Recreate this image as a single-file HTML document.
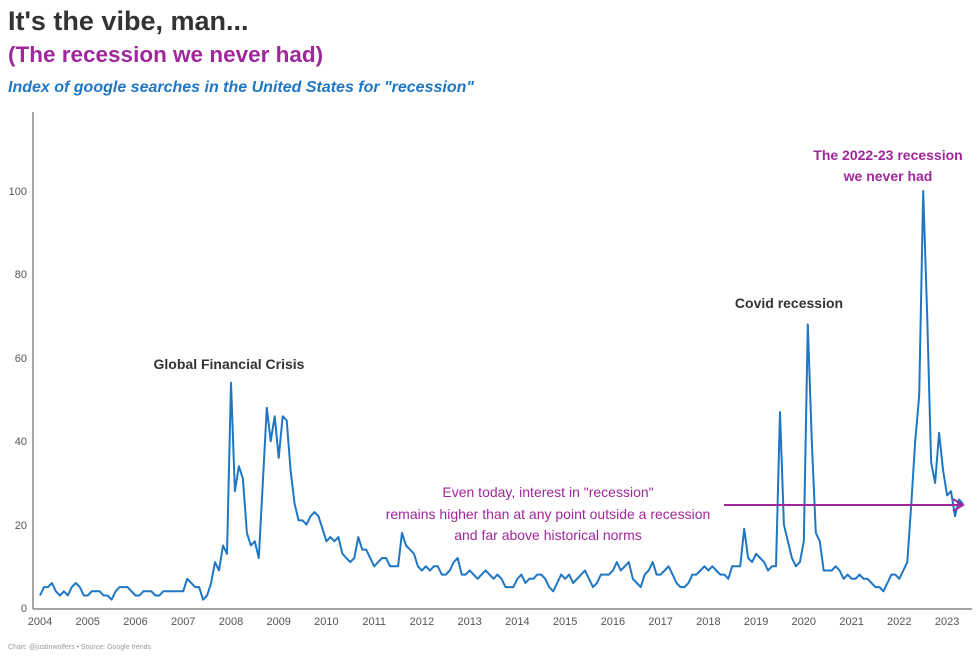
<!DOCTYPE html>
<html><head><meta charset="utf-8"><style>
body{margin:0;background:#fff;width:980px;height:660px;overflow:hidden;font-family:"Liberation Sans",sans-serif}
</style></head><body>
<svg width="980" height="660" viewBox="0 0 980 660" xmlns="http://www.w3.org/2000/svg" font-family="Liberation Sans, sans-serif">
<text x="8" y="30" font-size="27" font-weight="bold" fill="#333">It's the vibe, man...</text>
<text x="8" y="62" font-size="22.5" font-weight="bold" fill="#a0279b">(The recession we never had)</text>
<text x="8" y="92" font-size="16" font-weight="bold" font-style="italic" fill="#1f77c4">Index of google searches in the United States for "recession"</text>
<line x1="33" y1="112" x2="33" y2="609" stroke="#888" stroke-width="1.5"/>
<line x1="33" y1="609" x2="972" y2="609" stroke="#888" stroke-width="1.5"/>
<g font-size="11" fill="#555" text-anchor="end">
<text x="27" y="612">0</text><text x="27" y="529">20</text><text x="27" y="445">40</text><text x="27" y="362">60</text><text x="27" y="278">80</text><text x="27" y="195">100</text>
</g>
<g font-size="11" fill="#555" text-anchor="middle" id="xl"></g>
<text x="8" y="649" font-size="7" fill="#999">Chart: @justinwolfers • Source: Google trends</text>
<text x="229" y="369" font-size="14" font-weight="bold" fill="#333" text-anchor="middle">Global Financial Crisis</text>
<text x="789" y="308" font-size="14" font-weight="bold" fill="#333" text-anchor="middle">Covid recession</text>
<text x="888" y="160" font-size="14" font-weight="bold" fill="#a0279b" text-anchor="middle">The 2022-23 recession</text>
<text x="888" y="181" font-size="14" font-weight="bold" fill="#a0279b" text-anchor="middle">we never had</text>
<g font-size="14" fill="#a0279b" text-anchor="middle">
<text x="548" y="497">Even today, interest in "recession"</text>
<text x="548" y="519">remains higher than at any point outside a recession</text>
<text x="548" y="540">and far above historical norms</text>
</g>
<path id="ln" fill="none" stroke="#1f77c4" stroke-width="2" stroke-linejoin="round"/>
<line x1="724" y1="505" x2="962" y2="505" stroke="#a0279b" stroke-width="2"/>
<path d="M953 499 L963 505 L953 511" fill="none" stroke="#a0279b" stroke-width="2"/>
</svg>
<script>
var d=[3,5,5,6,4,3,4,3,5,6,5,3,
3,4,4,4,3,3,2,4,5,5,5,4,
3,3,4,4,4,3,3,4,4,4,4,4,
4,7,6,5,5,2,3,6,11,9,15,13,
54,28,34,31,18,15,16,12,30,48,40,46,
36,46,45,33,25,21,21,20,22,23,22,19,
16,17,16,17,13,12,11,12,17,14,14,12,
10,11,12,12,10,10,10,18,15,14,13,10,
9,10,9,10,10,8,8,9,11,12,8,8,
9,8,7,8,9,8,7,8,7,5,5,5,
7,8,6,7,7,8,8,7,5,4,6,8,
7,8,6,7,8,9,7,5,6,8,8,8,
9,11,9,10,11,7,6,5,8,9,11,8,
8,9,10,8,6,5,5,6,8,8,9,10,
9,10,9,8,8,7,10,10,10,19,12,11,
13,12,11,9,10,10,47,20,16,12,10,11,
16,68,40,18,16,9,9,9,10,9,7,8,
7,7,8,7,7,6,5,5,4,6,8,8,
7,9,11,25,40,51,100,70,35,30,42,33,
27,28,22,26,25];
var p="";for(var i=0;i<d.length;i++){var x=40+i*47.74/12,y=608-d[i]*4.17;p+=(i?"L":"M")+x.toFixed(1)+" "+y.toFixed(1);}
document.getElementById("ln").setAttribute("d",p);
var g=document.getElementById("xl"),s="";for(var k=0;k<20;k++){s+='<text x="'+(40+k*47.74).toFixed(1)+'" y="625">'+(2004+k)+'</text>';}
g.innerHTML=s;
</script>
</body></html>
